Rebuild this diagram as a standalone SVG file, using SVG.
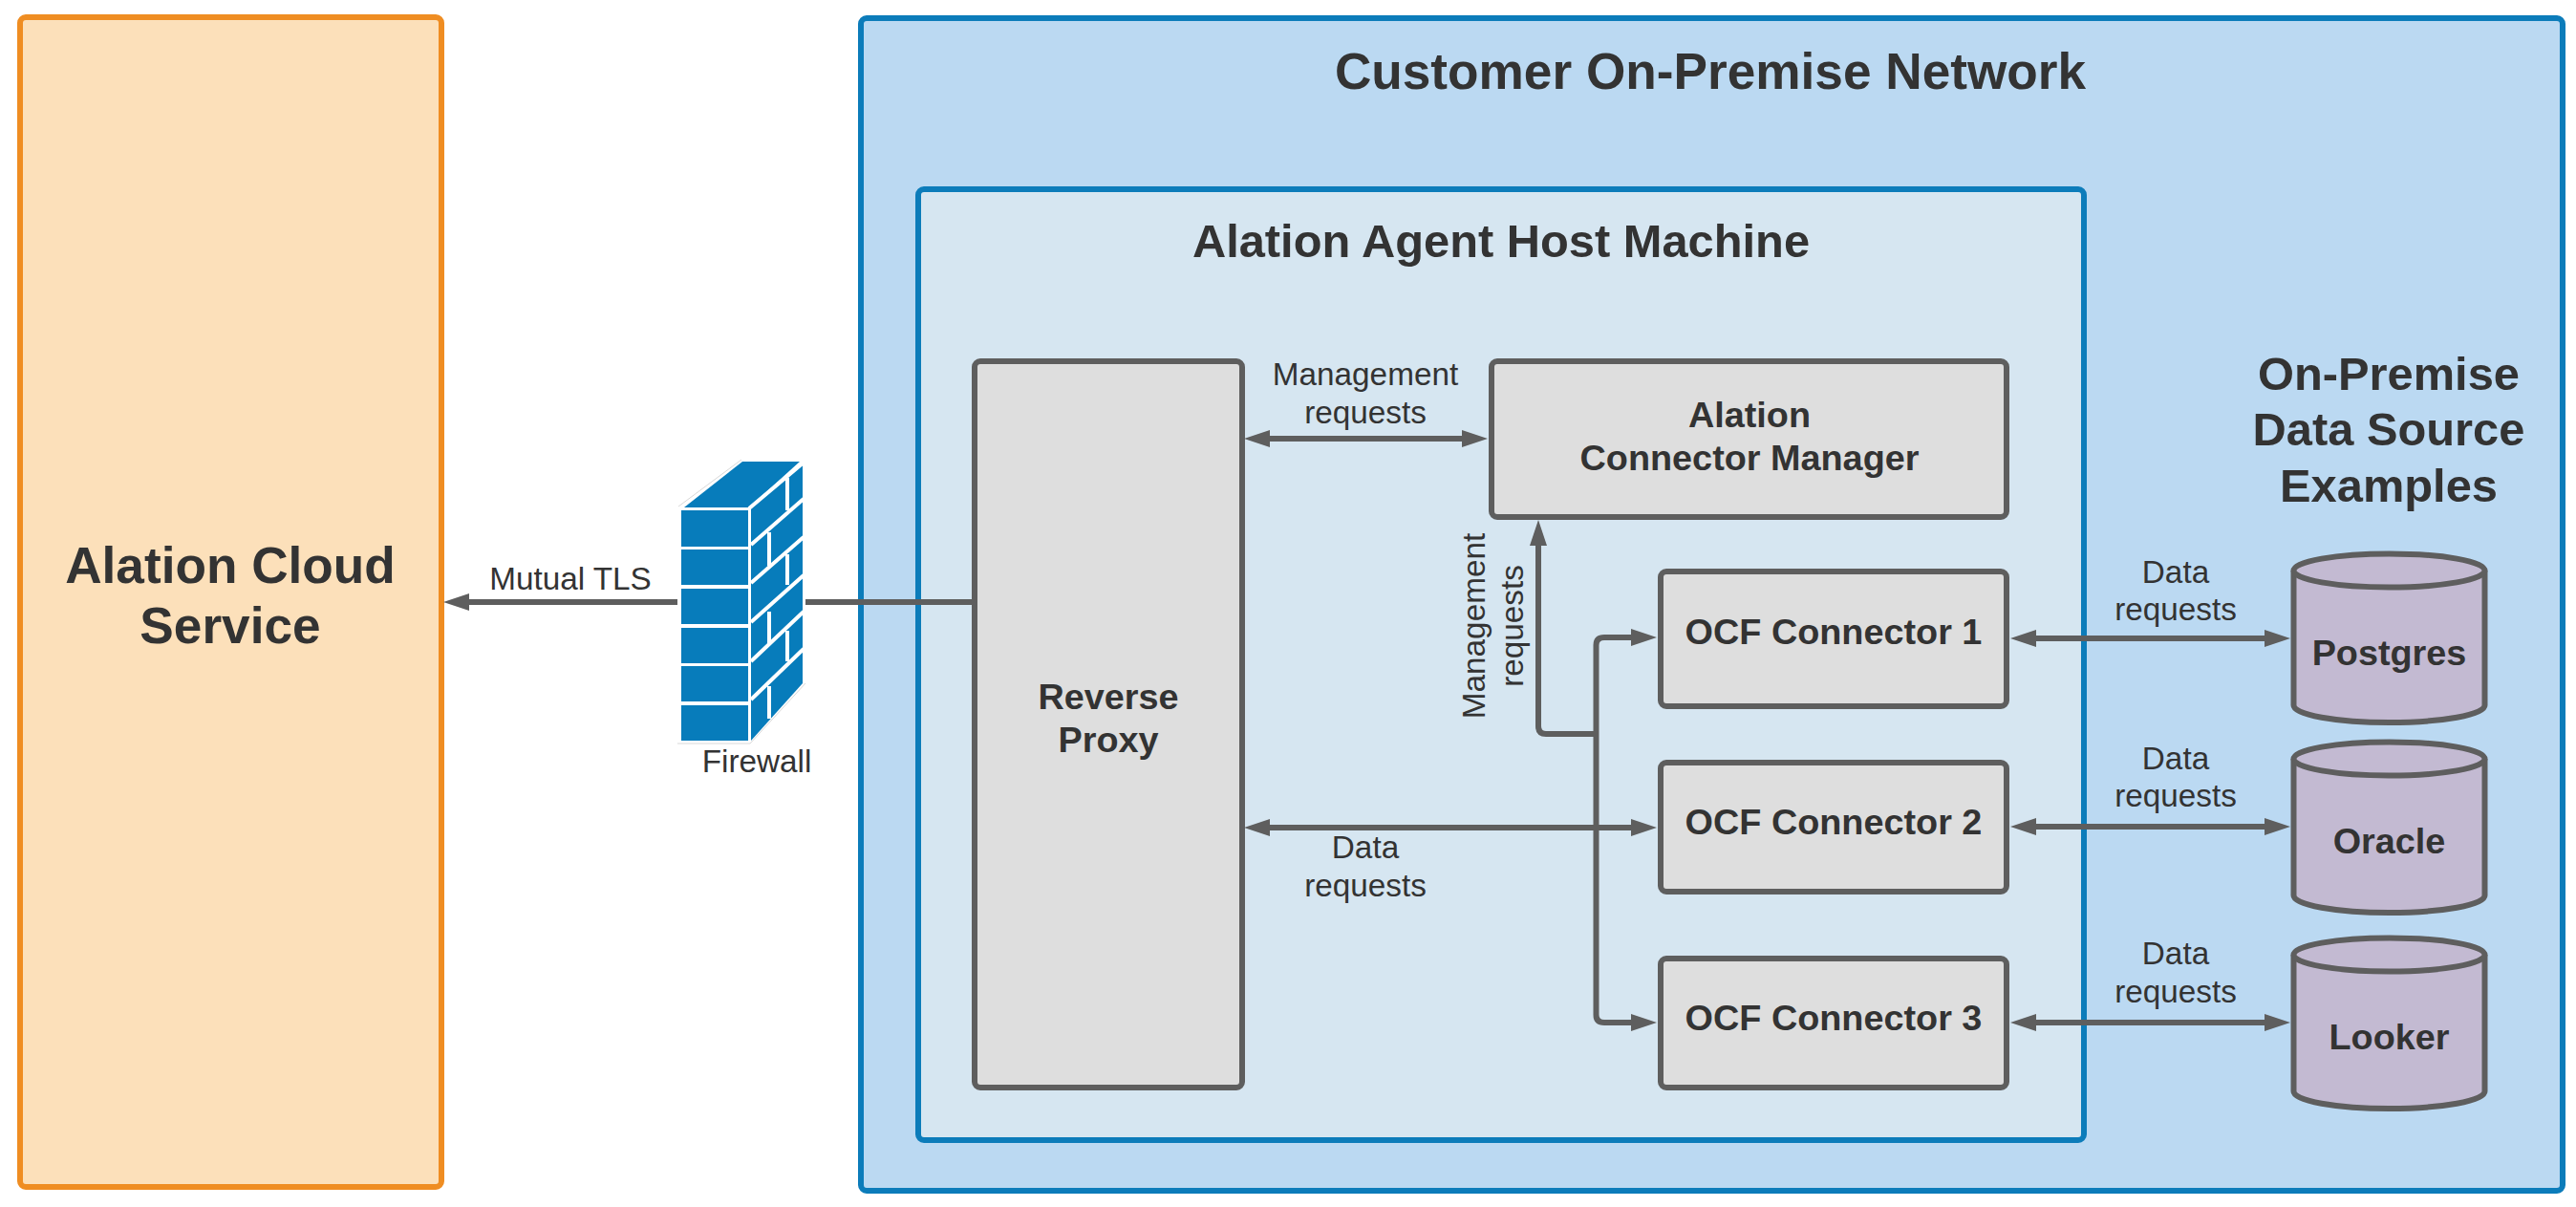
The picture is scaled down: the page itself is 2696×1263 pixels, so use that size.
<svg xmlns="http://www.w3.org/2000/svg" width="2696" height="1263" viewBox="0 0 2696 1263">
<style>
text{font-family:"Liberation Sans",Arial,sans-serif;fill:#333;text-anchor:middle}
.t1{font-size:53.2px;font-weight:700}
.t2{font-size:48.8px;font-weight:700}
.t3{font-size:37.8px;font-weight:700}
.lb{font-size:33.3px}
.box{fill:#dedede;stroke:#5e5e5e;stroke-width:6}
.db{fill:#c3bad2;stroke:#5e5e5e;stroke-width:6}
.cn{fill:none;stroke:#5e5e5e;stroke-width:6;stroke-linejoin:round}
</style>
<defs>
<marker id="ah" markerUnits="userSpaceOnUse" markerWidth="28" markerHeight="20" refX="1" refY="9.5" orient="auto-start-reverse" viewBox="0 0 28 19"><path d="M0 0.5L27 9.5L0 18.5Z" fill="#5e5e5e"/></marker>
</defs>
<rect width="2696" height="1263" fill="#fff"/>
<g id="cloud"><rect x="21" y="18" width="441" height="1224" rx="6" fill="#fce0ba" stroke="#ef8d22" stroke-width="6"/>
<text class="t1" x="241" y="610">Alation Cloud</text><text class="t1" x="241" y="673">Service</text></g>
<g id="customer"><rect x="901" y="19" width="1781" height="1227" rx="6" fill="#bbd9f2" stroke="#0c7cba" stroke-width="6"/>
<text class="t1" x="1790" y="93">Customer On-Premise Network</text></g>
<g id="host"><rect x="961" y="198" width="1220" height="995" rx="6" fill="#d6e6f1" stroke="#0c7cba" stroke-width="6"/>
<text class="t2" x="1571" y="269">Alation Agent Host Machine</text></g>
<g id="connectors">
<path class="cn" d="M843 630H1020"/>
<path class="cn" d="M709 630H490" marker-end="url(#ah)"/>
<path class="cn" d="M1328 459H1531" marker-start="url(#ah)" marker-end="url(#ah)"/>
<path class="cn" d="M1328 866H1708" marker-start="url(#ah)" marker-end="url(#ah)"/>
<path class="cn" d="M1670.5 768H1618Q1610 768 1610 760V570" marker-end="url(#ah)"/>
<path class="cn" d="M1670.5 866V675Q1670.5 667 1679 667H1708" marker-end="url(#ah)"/>
<path class="cn" d="M1670.5 866V1062Q1670.5 1070 1679 1070H1708" marker-end="url(#ah)"/>
<path class="cn" d="M2130 668H2371" marker-start="url(#ah)" marker-end="url(#ah)"/>
<path class="cn" d="M2130 865H2371" marker-start="url(#ah)" marker-end="url(#ah)"/>
<path class="cn" d="M2130 1070H2371" marker-start="url(#ah)" marker-end="url(#ah)"/>
</g>
<g id="firewall">
<path d="M716 531L777 483H837L784 531Z" fill="#077cbb"/>
<path d="M786 531L840 485V715L786 775Z" fill="#077cbb"/>
<rect x="713" y="534" width="70" height="38" fill="#077cbb"/><rect x="713" y="575" width="70" height="37" fill="#077cbb"/><rect x="713" y="616" width="70" height="37" fill="#077cbb"/><rect x="713" y="657" width="70" height="37" fill="#077cbb"/><rect x="713" y="697" width="70" height="37" fill="#077cbb"/><rect x="713" y="738" width="70" height="37" fill="#077cbb"/>
<path fill="none" stroke="#fff" stroke-width="4" d="M784 532L841 484M786 570L841 522M786 610L841 562M786 651L841 602M786 692L841 640M786 732L841 679M824 500V534M805 557V592M824 580V612M805 640V675M824 660V692M805 718V752"/>
<path fill="none" stroke="#d8d8d8" stroke-width="1" d="M710 530L776 481M709 778H785L843 715"/>
<text class="lb" x="792" y="808">Firewall</text></g>
<g id="proxy"><rect class="box" x="1020" y="378" width="280" height="760" rx="6"/><text class="t3" x="1160" y="742">Reverse</text><text class="t3" x="1160" y="787">Proxy</text></g>
<g id="manager"><rect class="box" x="1561" y="378" width="539" height="163" rx="6"/><text class="t3" x="1831" y="447">Alation</text><text class="t3" x="1831" y="492">Connector Manager</text></g>
<g id="ocf1"><rect class="box" x="1738" y="598" width="362" height="141" rx="6"/><text class="t3" x="1919" y="674">OCF Connector 1</text></g>
<g id="ocf2"><rect class="box" x="1738" y="798" width="362" height="135" rx="6"/><text class="t3" x="1919" y="873">OCF Connector 2</text></g>
<g id="ocf3"><rect class="box" x="1738" y="1003" width="362" height="135" rx="6"/><text class="t3" x="1919" y="1078">OCF Connector 3</text></g>
<g id="postgres"><path class="db" d="M2400.5 597A100 17.5 0 0 1 2600.5 597V738A100 18 0 0 1 2400.5 738Z"/><path class="db" d="M2400.5 597A100 17.5 0 0 0 2600.5 597" fill="none"/><text class="t3" x="2500.5" y="696">Postgres</text></g>
<g id="oracle"><path class="db" d="M2400.5 794A100 17.5 0 0 1 2600.5 794V937A100 18 0 0 1 2400.5 937Z"/><path class="db" d="M2400.5 794A100 17.5 0 0 0 2600.5 794" fill="none"/><text class="t3" x="2500.5" y="893">Oracle</text></g>
<g id="looker"><path class="db" d="M2400.5 999A100 17.5 0 0 1 2600.5 999V1142A100 18 0 0 1 2400.5 1142Z"/><path class="db" d="M2400.5 999A100 17.5 0 0 0 2600.5 999" fill="none"/><text class="t3" x="2500.5" y="1098">Looker</text></g>
<g id="labels">
<text class="t2" x="2500" y="408">On-Premise</text><text class="t2" x="2500" y="466">Data Source</text><text class="t2" x="2500" y="525">Examples</text>
<text class="lb" x="597" y="617">Mutual TLS</text>
<text class="lb" x="1429" y="403">Management</text><text class="lb" x="1429" y="443">requests</text>
<text class="lb" x="1429" y="898">Data</text><text class="lb" x="1429" y="938">requests</text>
<text class="lb" transform="translate(1553.5 655) rotate(-90)">Management</text><text class="lb" transform="translate(1593.5 655) rotate(-90)">requests</text>
<text class="lb" x="2277" y="610">Data</text><text class="lb" x="2277" y="649">requests</text>
<text class="lb" x="2277" y="805">Data</text><text class="lb" x="2277" y="844">requests</text>
<text class="lb" x="2277" y="1009">Data</text><text class="lb" x="2277" y="1049">requests</text>
</g>
</svg>
